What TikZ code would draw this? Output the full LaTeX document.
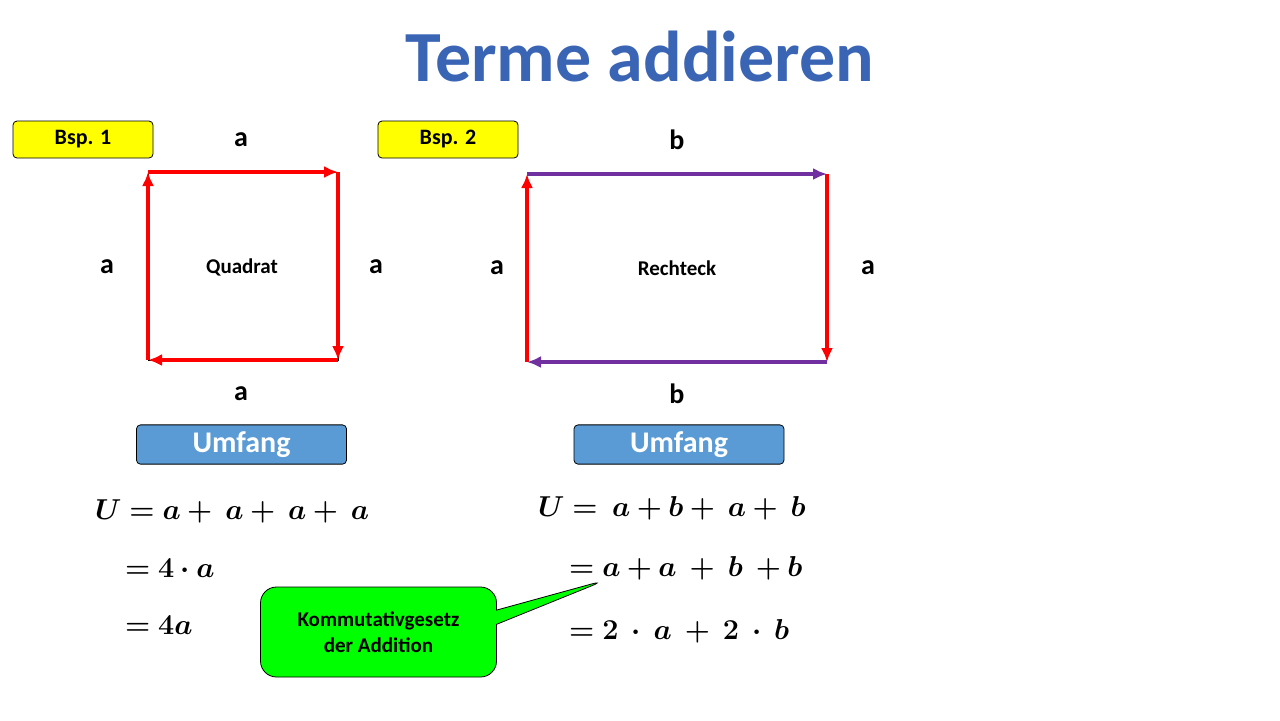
\documentclass[tikz,border=0pt]{standalone}
\usepackage{amsmath,bm}
\usepackage{fontspec}
\setmainfont{Carlito}
\usetikzlibrary{positioning,shapes.callouts,arrows.meta}
\definecolor{bspyellow}{RGB}{255,255,0}
\definecolor{umfangblue}{RGB}{91,155,213}
\definecolor{titleblue}{RGB}{58,100,180}
\definecolor{arrowred}{RGB}{255,0,0}
\definecolor{arrowpurple}{RGB}{112,48,160}
\definecolor{calloutgreen}{RGB}{0,255,0}

\begin{document}
\begin{tikzpicture}[x=0.5pt,y=-0.5pt,
  bspbox/.style={rectangle, rounded corners=2pt, draw=black, fill=bspyellow, minimum width=70pt, minimum height=18.5pt, font=\bfseries\fontsize{11}{13}\selectfont},
  umfangbox/.style={rectangle, rounded corners=2pt, draw=black, fill=umfangblue, text=white, minimum width=105pt, minimum height=18.5pt, font=\bfseries\fontsize{15}{17}\selectfont},
  sidelabel/.style={font=\bfseries\fontsize{14}{16}\selectfont},
  shapelabel/.style={font=\bfseries\fontsize{10.5}{12}\selectfont},
  side/.style={line width=2pt, -{Latex[length=7pt,width=6pt]}},
  eq/.style={anchor=west, font=\fontsize{14.5}{17}\selectfont}]
\useasboundingbox (0,0) rectangle (1280,720);

% title
\node[font=\bfseries\fontsize{36}{40}\selectfont, text=titleblue] (title) at (640,56) {Terme addieren};

% Bsp. 1
\node[bspbox] (bsp1) at (83,139.5) {Bsp. 1};
\coordinate (q1) at (148,172);
\coordinate (q2) at (338,172);
\coordinate (q3) at (338,360);
\coordinate (q4) at (148,360);
\draw[thin] (q1) rectangle (q3);
\draw[side, arrowred] (q4) -- (q1);
\draw[side, arrowred] (q1) -- (q2);
\draw[side, arrowred] (q2) -- (q3);
\draw[side, arrowred] (q3) -- (q4);
\node[sidelabel] (qa1) at (241,140) {a};
\node[sidelabel] (qa2) at (107,267) {a};
\node[sidelabel] (qa3) at (376,267) {a};
\node[sidelabel] (qa4) at (241,394) {a};
\node[shapelabel] (quadrat) at (242,267) {Quadrat};
\node[umfangbox] (umfang1) at (241.5,444.5) {Umfang};

% Bsp. 2
\node[bspbox] (bsp2) at (448,139.5) {Bsp. 2};
\coordinate (r1) at (527,174);
\coordinate (r2) at (827,174);
\coordinate (r3) at (827,362);
\coordinate (r4) at (527,362);
\draw[side, arrowred] (r4) -- (r1);
\draw[side, arrowpurple] (r1) -- (r2);
\draw[side, arrowred] (r2) -- (r3);
\draw[side, arrowpurple] (r3) -- (r4);
\node[sidelabel] (rb1) at (677,140) {b};
\node[sidelabel] (ra2) at (497,268) {a};
\node[sidelabel] (ra3) at (868,268) {a};
\node[sidelabel] (rb4) at (677,394) {b};
\node[shapelabel] (rechteck) at (677,268) {Rechteck};
\node[umfangbox] (umfang2) at (679,444.5) {Umfang};

% equations
\node[eq] (eq1a) at (88,511) {$\bm{U=a+\ a+\ a+\ a}$};
\node[eq] (eq1b) at (118,568) {$\bm{=4\cdot a}$};
\node[eq] (eq1c) at (118,625) {$\bm{=4a}$};
\node[eq] (eq2a) at (531,508) {$\bm{U=\ a+b+\ a+\ b}$};
\node[eq] (eq2b) at (562,568) {$\bm{=a+a\ +\ b\ +b}$};
\node[eq] (eq2c) at (562,631) {$\bm{=2\ \cdot\ a\ +\ 2\ \cdot\ b}$};
\coordinate (tip) at (606,580);

% callout
\node[rectangle callout, rounded corners=8pt, draw=black, fill=calloutgreen, minimum width=118pt, minimum height=45pt, align=center, font=\bfseries\fontsize{10.5}{13}\selectfont, callout absolute pointer={(tip)}] (kommutativ) at (378.5,632) {Kommutativgesetz\\der Addition};
\end{tikzpicture}
\end{document}
